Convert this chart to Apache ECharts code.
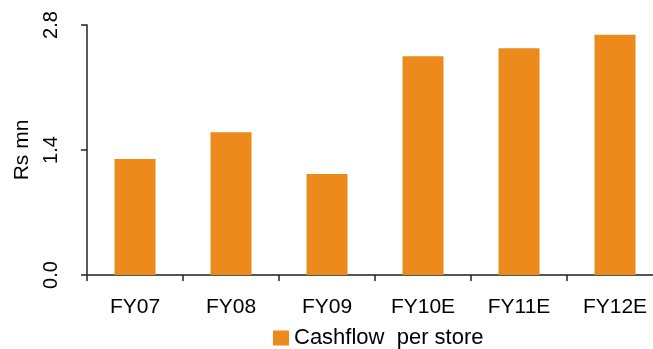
<!DOCTYPE html>
<html>
<head>
<meta charset="utf-8">
<script src="https://cdn.jsdelivr.net/npm/echarts@6/dist/echarts.min.js"></script>
<style>
  html, body { margin: 0; padding: 0; background: #fff; }
  #chart { width: 653px; height: 349px; }
</style>
</head>
<body>
<div id="chart"></div>
<script>
// Cashflow per store by fiscal year (Rs mn)
const categories = ['FY07', 'FY08', 'FY09', 'FY10E', 'FY11E', 'FY12E'];
const cashflowPerStore = [1.30, 1.60, 1.13, 2.45, 2.54, 2.69];
const yTicks = { min: 0, max: 2.8, interval: 1.4 };
const seriesName = 'Cashflow  per store';

const FONT = 'Liberation Sans, Arial, sans-serif';
const chart = echarts.init(document.getElementById('chart'), null, { renderer: 'canvas' });

chart.setOption({
  animation: false,
  grid: { left: 87, top: 25, width: 576, height: 250, containLabel: false, outerBoundsMode: 'none' },
  legend: {
    data: [seriesName],
    left: 273,
    top: 327,
    padding: 0,
    itemWidth: 16,
    itemHeight: 15,
    itemGap: 5,
    icon: 'rect',
    textStyle: { fontFamily: FONT, fontSize: 22, color: '#000', padding: [0, 0, 0, 0] }
  },
  xAxis: {
    type: 'category',
    data: categories,
    boundaryGap: true,
    axisLine: { show: true, lineStyle: { color: '#555', width: 2 } },
    axisTick: { show: true, length: 6, alignWithLabel: false, lineStyle: { color: '#222', width: 1.5 } },
    axisLabel: { fontFamily: FONT, fontSize: 21, color: '#000', margin: 22 }
  },
  yAxis: {
    type: 'value',
    min: yTicks.min,
    max: yTicks.max,
    interval: yTicks.interval,
    name: 'Rs mn',
    nameLocation: 'middle',
    nameGap: 54,
    nameRotate: 90,
    nameMoveOverlap: false,
    nameTextStyle: { fontFamily: FONT, fontSize: 21, color: '#000' },
    axisLine: { show: true, lineStyle: { color: '#222', width: 1.5 } },
    axisTick: { show: true, length: 6, lineStyle: { color: '#222', width: 1.5 } },
    splitLine: { show: false },
    axisLabel: {
      fontFamily: FONT, fontSize: 20, color: '#000',
      rotate: 90, margin: 26,
      formatter: v => v.toFixed(1)
    }
  },
  series: [{
    name: seriesName,
    type: 'bar',
    data: cashflowPerStore,
    barWidth: 41,
    itemStyle: { color: '#EC8A1B' }
  }]
});
</script>
</body>
</html>
